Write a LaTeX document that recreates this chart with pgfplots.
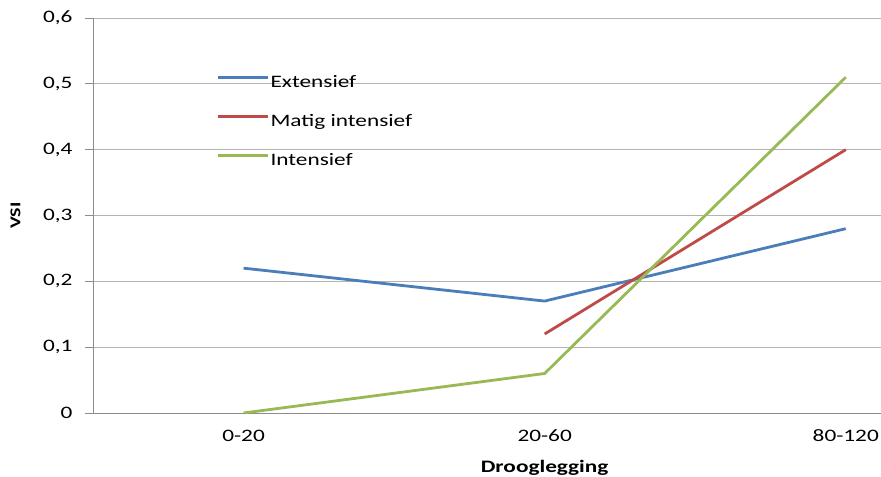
\documentclass[border=0pt]{standalone}
\usepackage{pgfplots}
\pgfplotsset{compat=1.18}
\usepackage{fontspec}
\setmainfont{Carlito}[FakeStretch=1.33]
\usetikzlibrary{calc}
\definecolor{exblue}{HTML}{4A7EBB}
\definecolor{exred}{HTML}{BE4B48}
\definecolor{exgreen}{HTML}{98B954}
\definecolor{gridgray}{HTML}{B3B3B3}
\definecolor{axisgray}{HTML}{8C8C8C}
\begin{document}
\begin{tikzpicture}[font=\fontsize{17.5}{21}\selectfont]
\begin{axis}[
  scale only axis, width=788pt, height=395pt,
  xmin=-0.5, xmax=2.117, ymin=0, ymax=0.6,
  axis lines*=left,
  axis line style={draw=axisgray, line width=0.8pt},
  xtick={0,1,2}, xticklabels={0-20,20-60,80-120},
  ytick={0,0.1,0.2,0.3,0.4,0.5,0.6},
  ymajorgrids, grid style={draw=gridgray, line width=0.8pt},
  xtick style={draw=none},
  ytick style={draw=axisgray, line width=0.8pt},
  tick align=outside, major tick length=8pt,
  yticklabel style={xshift=-9pt, /pgf/number format/.cd, fixed, precision=1, use comma, assume math mode=true},
  xticklabel style={text height=17pt, text depth=0pt},
  xlabel={Drooglegging},
  xlabel style={at={(axis cs:1,0)}, anchor=base, yshift=-60pt, font=\bfseries\fontsize{17.5}{21}\selectfont},
  ylabel={VSI},
  ylabel style={at={(axis description cs:-0.0984,0.5)}, anchor=center, font=\bfseries\fontsize{15}{18}\selectfont},
  clip=false,
  legend cell align=left,
  legend style={draw=none, fill=none, at={(axis cs:-0.0914,0.5134)}, anchor=north west, inner sep=0pt,
    row sep=23pt, nodes={inner ysep=0pt, inner xsep=1.5pt, text height=12pt, text depth=4pt}},
  legend image code/.code={\draw[#1, line width=2.8pt] (0pt,5.5pt) -- (50pt,5.5pt);},
]
\addplot[exblue, line width=2.8pt] coordinates {(0,0.22) (1,0.17) (2,0.28)};
\addlegendentry{Extensief}
\addplot[exred, line width=2.8pt] coordinates {(1,0.12) (2,0.40)};
\addlegendentry{Matig intensief}
\addplot[exgreen, line width=2.8pt] coordinates {(0,0) (1,0.06) (2,0.51)};
\addlegendentry{Intensief}
\end{axis}
\pgfresetboundingbox
\path ($(current axis.south west)+(-93pt,-64pt)$) rectangle ($(current axis.north east)+(0pt,18pt)$);
\end{tikzpicture}
\end{document}
